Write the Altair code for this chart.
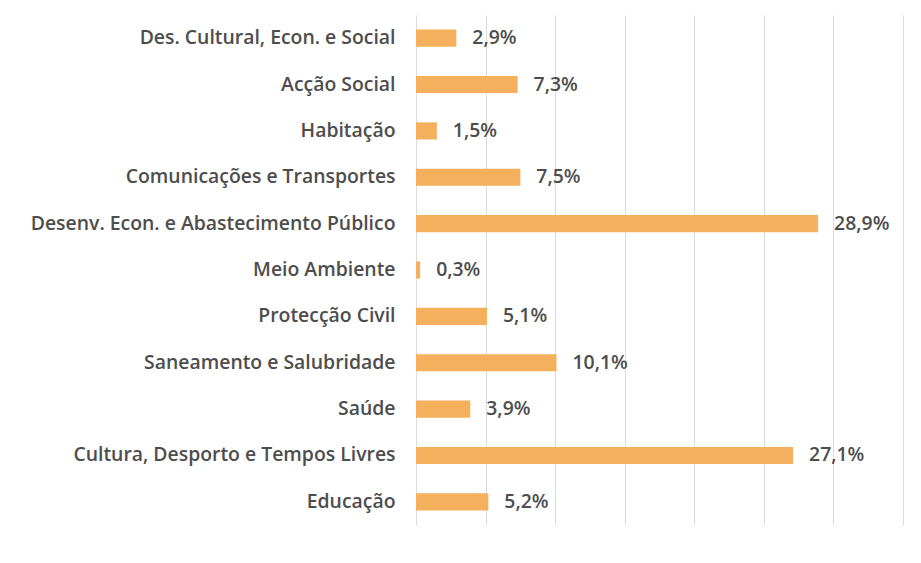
import altair as alt
import pandas as pd

categories = [
    "Des. Cultural, Econ. e Social",
    "Acção Social",
    "Habitação",
    "Comunicações e Transportes",
    "Desenv. Econ. e Abastecimento Público",
    "Meio Ambiente",
    "Protecção Civil",
    "Saneamento e Salubridade",
    "Saúde",
    "Cultura, Desporto e Tempos Livres",
    "Educação",
]
values = [2.9, 7.3, 1.5, 7.5, 28.9, 0.3, 5.1, 10.1, 3.9, 27.1, 5.2]
x_ticks = [0, 5, 10, 15, 20, 25, 30, 35]

df = pd.DataFrame({"cat": categories, "v": values})

FONT = "Open Sans"
BAR = "#F5B05E"
TXT = "#4D4D4D"

y_enc = alt.Y(
    "cat:N",
    sort=categories,
    scale=alt.Scale(paddingInner=0.63, paddingOuter=0.315),
    axis=alt.Axis(
        title=None,
        ticks=False,
        domain=False,
        labelPadding=21,
        labelFontSize=19.4,
        labelFontWeight=600,
        labelFont=FONT,
        labelColor=TXT,
        labelLimit=420,
        grid=False,
    ),
)
x_enc = alt.X(
    "v:Q",
    scale=alt.Scale(domain=[0, 35], nice=False),
    axis=alt.Axis(
        title=None,
        values=x_ticks,
        labels=False,
        ticks=False,
        domain=False,
        grid=True,
        gridColor="#DCDCDC",
        gridWidth=1,
    ),
)

bars = alt.Chart(df).mark_bar(color=BAR, cornerRadius=0).encode(x=x_enc, y=y_enc)

labels = alt.Chart(df).transform_calculate(
    lab="replace(format(datum.v, '.1f'), '.', ',') + '%'"
).mark_text(
    align="left", baseline="middle", dx=16, fontSize=19.4, fontWeight=600,
    font=FONT, color=TXT
).encode(
    x=alt.X("v:Q", scale=alt.Scale(domain=[0, 35], nice=False)),
    y=alt.Y("cat:N", sort=categories),
    text="lab:N",
)

chart = (
    alt.layer(bars, labels)
    .properties(
        width=487,
        height=510,
        autosize=alt.AutoSizeParams(type="none"),
        padding={"left": 416, "top": 15, "right": 18, "bottom": 38},
        background="white",
    )
    .configure_view(stroke=None)
)

chart.save("out.html", embed_options={"renderer": "svg", "actions": False})
